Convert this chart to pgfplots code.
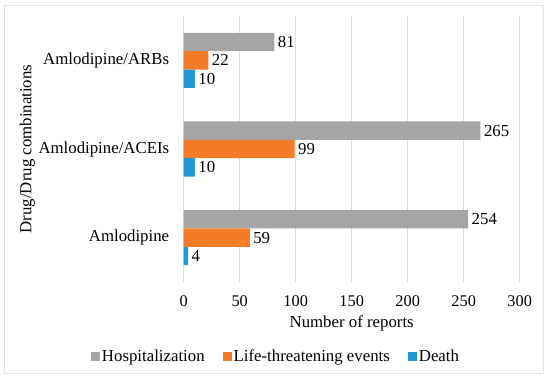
\documentclass[border=0pt]{standalone}
\usepackage{pgfplots}
\pgfplotsset{compat=1.18}
\usepackage{fontspec}
\setmainfont{Liberation Serif}
\definecolor{cgray}{HTML}{A5A5A5}
\definecolor{corange}{HTML}{F47B27}
\definecolor{cblue}{HTML}{2099D8}
\newcommand\cf{\fontsize{16.8}{20}\selectfont}
\newcommand\tf{\fontsize{16.3}{19.5}\selectfont}
\begin{document}
\begin{tikzpicture}
\begin{axis}[
  at={(183.7pt,97pt)}, anchor=south west,
  scale only axis, width=336pt, height=266pt,
  xbar, bar width=0.207,
  xmin=0, xmax=300, ymin=-0.5, ymax=2.5,
  xtick={0,50,...,300},
  ytick={0,1,2},
  yticklabels={Amlodipine, Amlodipine/ACEIs, Amlodipine/ARBs},
  major tick length=0pt,
  axis line style={draw=none},
  xmajorgrids, grid style={draw=black!13, line width=0.8pt},
  /pgf/number format/assume math mode=true,
  tick label style={text=black},
  yticklabel style={font=\cf, xshift=-11pt},
  xticklabel style={font=\tf, yshift=-10pt},
  xlabel={Number of reports},
  ylabel={Drug/Drug combinations},
  label style={font=\cf},
  xlabel style={at={(axis description cs:0.5,-0.154)}, anchor=center},
  ylabel style={at={(axis description cs:-0.465,0.5)}, anchor=center, rotate=0},
  nodes near coords,
  nodes near coords style={font=\cf, text=black},
  legend columns=3,
  legend style={draw=none, font=\cf, at={(axis description cs:0.2747,-0.281)}, anchor=center,
    /tikz/every even column/.append style={column sep=16pt}},
  legend image code/.code={\fill[#1] (0pt,-4.5pt) rectangle (9pt,4.5pt);},
]
\addplot[fill=cgray, draw=none, bar shift=0.207] coordinates {(254,0) (265,1) (81,2)};
\addplot[fill=corange, draw=none, bar shift=0] coordinates {(59,0) (99,1) (22,2)};
\addplot[fill=cblue, draw=none, bar shift=-0.207] coordinates {(4,0) (10,1) (10,2)};
\legend{Hospitalization, Life-threatening events, Death}
\end{axis}
\draw[black!11, line width=1pt] (4pt,5pt) rectangle (543.5pt,373.3pt);
\pgfresetboundingbox
\path (0,0) rectangle (550pt,379pt);
\end{tikzpicture}
\end{document}
